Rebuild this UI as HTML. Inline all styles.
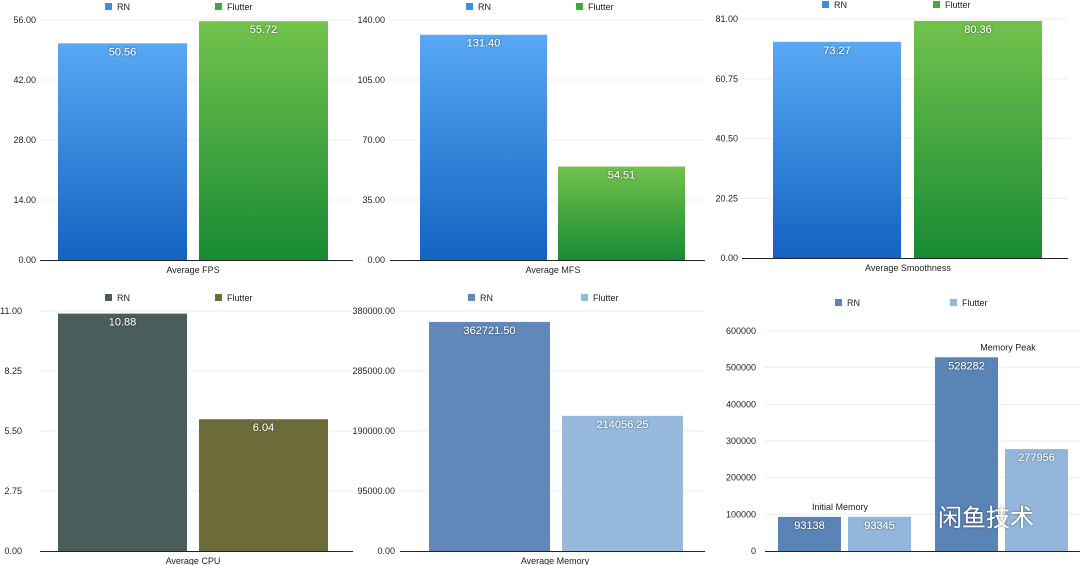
<!DOCTYPE html>
<html><head><meta charset="utf-8"><style>
html,body{margin:0;padding:0;background:#fff;}
svg{display:block;font-family:"Liberation Sans","Noto Sans CJK SC",sans-serif;}
</style></head><body>
<svg id="c" width="1080" height="565">
<defs>
<linearGradient id="gBlue" x1="0" y1="0" x2="0" y2="1"><stop offset="0" stop-color="#58a8f4"/><stop offset="1" stop-color="#1462c2"/></linearGradient>
<linearGradient id="gGreen" x1="0" y1="0" x2="0" y2="1"><stop offset="0" stop-color="#72c24c"/><stop offset="1" stop-color="#188a34"/></linearGradient>
<filter id="sh"><feDropShadow dx="0" dy="0" stdDeviation="1" flood-color="#000" flood-opacity="0.6"/></filter>
</defs>
</svg>
<script>
const fpsValues=[50.56,55.72];
const mfsValues=[131.40,54.51];
const smoothValues=[73.27,80.36];
const cpuValues=[10.88,6.04];
const memValues=[362721.50,214056.25];
const memGroupCategories=["Initial Memory","Memory Peak"];
const memRN=[93138,528282];
const memFlutter=[93345,277956];
const seriesNames=["RN","Flutter"];
const fpsTicks=["0.00","14.00","28.00","42.00","56.00"];
const mfsTicks=["0.00","35.00","70.00","105.00","140.00"];
const smoothTicks=["0.00","20.25","40.50","60.75","81.00"];
const cpuTicks=["0.00","2.75","5.50","8.25","11.00"];
const memTicks=["0.00","95000.00","190000.00","285000.00","380000.00"];
const memGroupTicks=["0","100000","200000","300000","400000","500000","600000"];

const svg=document.getElementById('c');
const NS='http://www.w3.org/2000/svg';
function mk(tag,attrs,parent){const e=document.createElementNS(NS,tag);for(const k in attrs)e.setAttribute(k,attrs[k]);(parent||svg).appendChild(e);return e;}
function txt(s,attrs,parent){const e=mk('text',attrs,parent);e.textContent=s;return e;}

function chart(o){
  const g=mk('g',{});
  
  
  const max=parseFloat(o.ticks[o.ticks.length-1]);
  const y=v=>o.y0-(v/max)*(o.y0-o.yTop);
  o.ticks.forEach((t,i)=>{
    const v=parseFloat(t);const yy=y(v);
    if(i>0){const l=mk('line',{x1:o.axL,x2:o.axR,y1:yy,y2:yy,stroke:'#ececec','stroke-width':1},g);}
    const tl=txt(t,{x:o.labR,y:yy+3,'font-size':9,'text-anchor':'end',fill:'#222'},g);
    
  });
  o.bars.forEach(b=>{
    const top=y(b.v);
    const r=mk('rect',{x:b.x,y:top,width:b.w,height:o.y0-top,fill:b.fill},g);
    
    
    const vl=txt(b.label,{x:b.x+b.w/2,y:top+12,'font-size':11,'text-anchor':'middle',fill:'#fff',filter:'url(#sh)'},g);
    
  });
  const ax=mk('line',{x1:o.axL,x2:o.axR,y1:o.y0+0.5,y2:o.y0+0.5,stroke:'#222','stroke-width':1},g);
  
  if(o.cat){const c=txt(o.cat,{x:o.catX,y:o.y0+13,'font-size':9,'text-anchor':'middle',fill:'#222'},g);}
  seriesNames.forEach((s,i)=>{
    const lx=o.leg[i];
    const sq=mk('rect',{x:lx,y:o.legY-4,width:7,height:7,fill:o.legCol[i]},g);
    
    const lt=txt(s,{x:lx+12,y:o.legY+3,'font-size':9,fill:'#222'},g);
    
  });
  return y;
}
function fmt(v,d){return v.toFixed(d);}
function twoBar(name,vals,ticks,cat,X,yTop,y0,labR,axL,axR,bx,bw,fills,leg,legY,catX,dec){
  chart({name,ticks,cat,catX,yTop,y0,labR,axL,axR,leg,legY,legCol:fills.map(f=>f.startsWith('url')?(f.includes('Blue')?'#3b8ee6':'#3faa3f'):f),
    bars:vals.map((v,i)=>({v,x:bx[i],w:bw,fill:fills[i],s:seriesNames[i],label:fmt(v,dec)}))});
}
twoBar('fps-chart',fpsValues,fpsTicks,'Average FPS',0,20,260,36,40,353,[58,199],129,['url(#gBlue)','url(#gGreen)'],[105,215],7,193,2);
twoBar('mfs-chart',mfsValues,mfsTicks,'Average MFS',0,20,260,385,390,705,[420,558],127,['url(#gBlue)','url(#gGreen)'],[466,576],7,553,2);
twoBar('smoothness-chart',smoothValues,smoothTicks,'Average Smoothness',0,19,258,738,742,1068,[773,914],128,['url(#gBlue)','url(#gGreen)'],[822,933],5,908,2);
twoBar('cpu-chart',cpuValues,cpuTicks,'Average CPU',0,311,551,22,40,353,[58,199],129,['#495d5b','#6b6c39'],[105,215],298,193,2);
twoBar('memory-chart',memValues,memTicks,'Average Memory',0,311,551,395,400,705,[429,562],121,['#6188b9','#96b9dc'],[468,581],298,555,2);

// grouped memory chart
const y6=chart({name:'memory-grouped-chart',ticks:memGroupTicks,cat:null,yTop:331,y0:551,labR:756,axL:765,axR:1080,leg:[835,950],legY:303,legCol:['#5b84b6','#93b7db'],
  bars:[].concat(...memGroupCategories.map((c,i)=>[
    {v:memRN[i],x:778+i*157,w:63,fill:'#5b84b6',s:'RN',label:String(memRN[i])},
    {v:memFlutter[i],x:848+i*157,w:63,fill:'#93b7db',s:'Flutter',label:String(memFlutter[i])}]))});
memGroupCategories.forEach((c,i)=>{
  const top=Math.min(y6(memRN[i]),y6(memFlutter[i]));
  const t=txt(c,{x:840+i*168,y:top-7,'font-size':9,'text-anchor':'middle',fill:'#222'});
  
  
});
const wm=txt('闲鱼技术',{x:938,y:526,'font-size':24,fill:'#fff',filter:'url(#sh)'});


</script>
</body></html>
